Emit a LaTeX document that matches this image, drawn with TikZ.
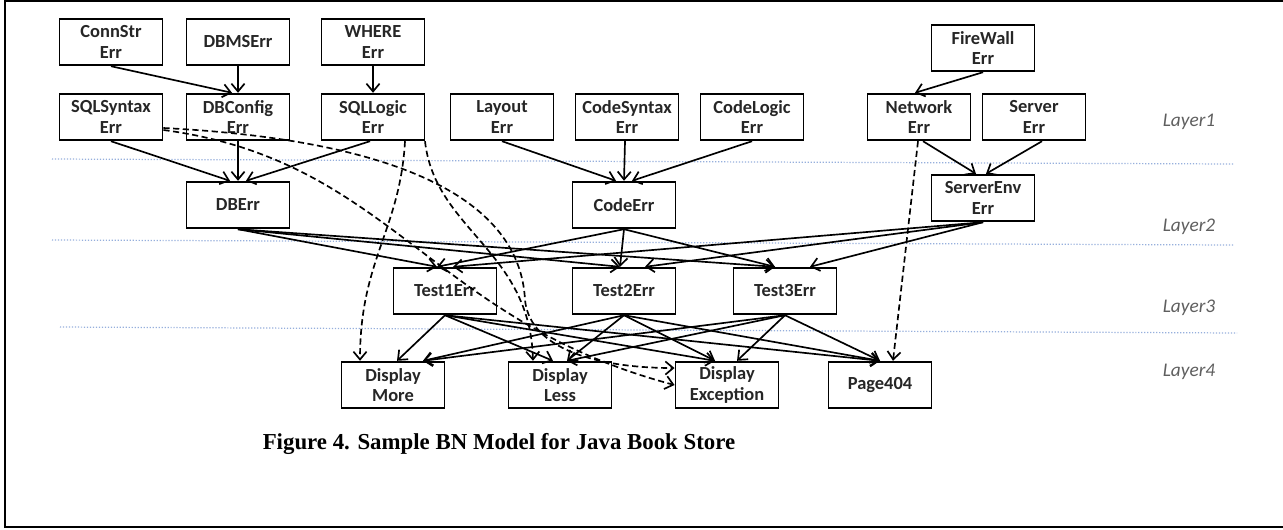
\documentclass[tikz,border=0pt]{standalone}
\usepackage{fontspec}
\setmainfont{Liberation Serif}
\newfontfamily\calibri{Carlito}
\usetikzlibrary{arrows.meta,calc}

\definecolor{layerblue}{RGB}{150,175,220}
\definecolor{layergray}{RGB}{95,95,95}

\tikzset{
    errbox/.style={draw,line width=1.1pt,minimum width=2.06cm,minimum height=0.93cm,
        align=center,inner sep=1pt,text=black!85,
        font=\calibri\bfseries\fontsize{10.5}{11.5}\selectfont},
    dep/.style={line width=0.95pt,-{Straight Barb[length=4.5pt,width=7.5pt]}},
    weakdep/.style={dep,dash pattern=on 3.5pt off 2pt},
    layerline/.style={layerblue,densely dotted,line width=0.7pt},
    layerlabel/.style={text=layergray,font=\calibri\itshape\fontsize{11}{13}\selectfont}
}

\begin{document}
\begin{tikzpicture}[x=0.02cm,y=-0.02cm]
    % Page and frame
    \useasboundingbox (0,0) rectangle (1283,529);
    \draw[line width=1.2pt] (1300,1) -- (5,1) -- (5,527) -- (1300,527);

    % Layer separators
    \draw[layerline] (52,159) -- (1233,164);
    \draw[layerline] (52,240) -- (1233,245);
    \draw[layerline] (60,327) -- (1237,333);
    \node[layerlabel] (lone) at (1189,122) {Layer1};
    \node[layerlabel] (ltwo) at (1189,227) {Layer2};
    \node[layerlabel] (lthree) at (1189,308) {Layer3};
    \node[layerlabel] (lfour) at (1189,372) {Layer4};

    % Layer 1
    \node[errbox] (connstr) at (111,42) {ConnStr\\Err};
    \node[errbox] (dbms) at (238,42) {DBMSErr};
    \node[errbox] (where) at (373,42) {WHERE\\Err};
    \node[errbox] (firewall) at (983,48) {FireWall\\Err};
    \node[errbox] (sqlsyntax) at (111,117) {SQLSyntax\\Err};
    \node[errbox] (dbconfig) at (238,117) {DBConfig\\Err};
    \node[errbox] (sqllogic) at (373,117) {SQLLogic\\Err};
    \node[errbox] (layout) at (502,117) {Layout\\Err};
    \node[errbox] (codesyntax) at (627,117) {CodeSyntax\\Err};
    \node[errbox] (codelogic) at (752,117) {CodeLogic\\Err};
    \node[errbox] (network) at (919,117) {Network\\Err};
    \node[errbox] (server) at (1034,117) {Server\\Err};

    % Layer 2
    \node[errbox] (dberr) at (238,205) {DBErr};
    \node[errbox] (codeerr) at (624,205) {CodeErr};
    \node[errbox] (serverenv) at (983,198) {ServerEnv\\Err};

    % Layer 3
    \node[errbox] (testone) at (445,291) {Test1Err};
    \node[errbox] (testtwo) at (624,291) {Test2Err};
    \node[errbox] (testthree) at (785,291) {Test3Err};

    % Layer 4
    \node[errbox] (dispmore) at (393,385) {Display\\More};
    \node[errbox] (displess) at (560,385) {Display\\Less};
    \node[errbox] (dispexc) at (727,385) {Display\\Exception};
    \node[errbox] (pagefour) at (880,385) {Page404};

    \node[font=\bfseries\fontsize{13}{15}\selectfont] (caption) at (499,444)
        {Figure 4. Sample BN Model for Java Book Store};

    % Layer 1 -> Layer 2
    \draw[dep] (connstr.south) -- ($(dbconfig.north)+(-6,0)$);
    \draw[dep] (dbms.south) -- (dbconfig.north);
    \draw[dep] (where.south) -- (sqllogic.north);
    \draw[dep] (firewall.south) -- ($(network.north)+(-4,0)$);
    \draw[dep] (sqlsyntax.south) -- ($(dberr.north)+(-8,0)$);
    \draw[dep] (dbconfig.south) -- (dberr.north);
    \draw[dep] ($(sqllogic.south)+(-3,0)$) -- ($(dberr.north)+(8,0)$);
    \draw[dep] (layout.south) -- ($(codeerr.north)+(-8,0)$);
    \draw[dep] ($(codesyntax.south)+(-2,0)$) -- (codeerr.north);
    \draw[dep] (codelogic.south) -- ($(codeerr.north)+(8,0)$);
    \draw[dep] ($(network.south)+(4,0)$) -- ($(serverenv.north)+(-7,0)$);
    \draw[dep] ($(server.south)+(8,0)$) -- ($(serverenv.north)+(3,0)$);

    % Layer 2 -> Layer 3
    \foreach \src in {dberr,codeerr}{
        \draw[dep] (\src.south) -- ($(testone.north)+(-8,0)$);
        \draw[dep] (\src.south) -- ($(testtwo.north)+(-4,0)$);
        \draw[dep] (\src.south) -- ($(testthree.north)+(-10,0)$);
    }
    \draw[dep] (serverenv.south) -- ($(testone.north)+(8,0)$);
    \draw[dep] (serverenv.south) -- ($(testtwo.north)+(21,0)$);
    \draw[dep] (serverenv.south) -- ($(testthree.north)+(25,0)$);

    % Layer 3 -> Layer 4
    \draw[dep] (testone.south) -- ($(dispmore.north)+(4,0)$);
    \draw[dep] (testone.south) -- ($(displess.north)+(-7,0)$);
    \draw[dep] (testone.south) -- ($(dispexc.north)+(-12,0)$);
    \foreach \src in {testtwo,testthree}{
        \draw[dep] (\src.south) -- ($(dispmore.north)+(30,0)$);
        \draw[dep] (\src.south) -- ($(displess.north)+(7,0)$);
    }
    \draw[dep] (testtwo.south) -- ($(dispexc.north)+(-12,0)$);
    \draw[dep] (testthree.south) -- ($(dispexc.north)+(10,0)$);
    \foreach \src in {testone,testtwo,testthree}
        \draw[dep] (\src.south) -- (pagefour.north);

    % Direct (dashed) links
    \draw[weakdep] ($(sqllogic.south)+(32,0)$) .. controls (400,230) and (360,260) .. ($(dispmore.north)+(-33,0)$);
    \draw[weakdep] ($(sqllogic.south)+(52,0)$) .. controls (435,230) and (530,250) .. ($(displess.north)+(-27,0)$);
    \draw[weakdep] ($(sqlsyntax.east)+(0,11)$) .. controls (400,140) and (520,200) .. (525,300)
        .. controls (530,350) and (600,368) .. ($(dispexc.west)+(0,-17)$);
    \draw[weakdep] ($(sqlsyntax.east)+(0,13)$) .. controls (390,160) and (430,320) .. (dispexc.west);
    \draw[weakdep] ($(network.south)+(-1,0)$) -- ($(pagefour.north)+(13,0)$);
\end{tikzpicture}
\end{document}
